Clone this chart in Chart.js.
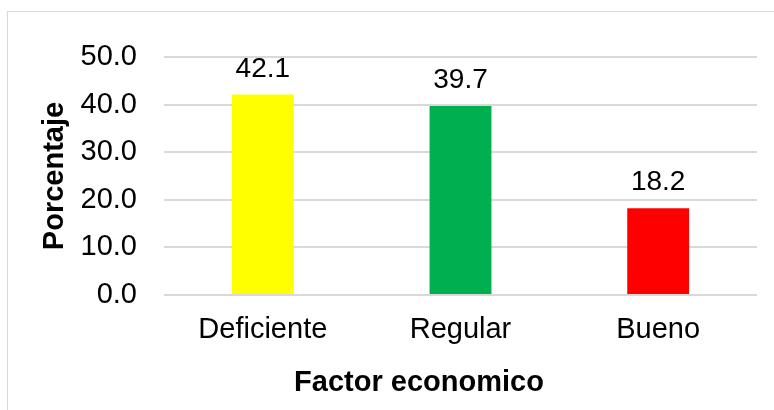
<!DOCTYPE html>
<html>
<head>
<meta charset="utf-8">
<script src="https://cdn.jsdelivr.net/npm/chart.js@4"></script>
<style>
  html, body { margin: 0; padding: 0; background: #fff; }
  #wrap { width: 774px; height: 410px; }
</style>
</head>
<body>
<div id="wrap"><canvas id="chart" width="774" height="410"></canvas></div>
<script>
const categories = ['Deficiente', 'Regular', 'Bueno'];
const values = [42.1, 39.7, 18.2];
const barColors = ['#FFFF00', '#00B050', '#FF0000'];
const yTicks = { min: 0, max: 50, step: 10 };
const xTitle = 'Factor economico';
const yTitle = 'Porcentaje';

const FONT = "'Liberation Sans', Arial, sans-serif";

// outer frame, like the Excel chart border
const framePlugin = {
  id: 'frame',
  beforeDraw(chart) {
    const ctx = chart.ctx;
    ctx.save();
    ctx.fillStyle = '#fff';
    ctx.fillRect(0, 0, chart.width, chart.height);
    ctx.strokeStyle = '#d9d9d9';
    ctx.lineWidth = 1;
    ctx.strokeRect(7.5, 11.5, chart.width + 20, chart.height + 20);
    ctx.restore();
  }
};

// value labels above bars + axis titles
const labelPlugin = {
  id: 'labels',
  afterDatasetsDraw(chart) {
    const ctx = chart.ctx;
    const meta = chart.getDatasetMeta(0);
    ctx.save();
    ctx.fillStyle = '#000';
    ctx.font = '28px ' + FONT;
    ctx.textAlign = 'center';
    ctx.textBaseline = 'alphabetic';
    meta.data.forEach((bar, i) => {
      ctx.fillText(values[i].toFixed(1), bar.x, bar.y - 18);
    });

    ctx.font = 'bold 29px ' + FONT;
    // x title sits a bit left of the plot centre, as in the original
    ctx.fillText(xTitle, 419, 391);

    const area = chart.chartArea;
    ctx.translate(55, (area.top + area.bottom) / 2);
    ctx.rotate(-Math.PI / 2);
    ctx.textBaseline = 'middle';
    ctx.fillText(yTitle, 0, 0);
    ctx.restore();
  }
};

new Chart(document.getElementById('chart'), {
  type: 'bar',
  data: {
    labels: categories,
    datasets: [{
      data: values,
      backgroundColor: barColors,
      barPercentage: 0.313,
      categoryPercentage: 1
    }]
  },
  options: {
    responsive: false,
    animation: false,
    layout: { padding: { left: 0, right: 17, top: 57, bottom: 0 } },
    plugins: {
      legend: { display: false },
      tooltip: { enabled: false }
    },
    scales: {
      x: {
        grid: { display: false, drawTicks: false },
        border: { display: false },
        ticks: {
          color: '#000',
          padding: 18,
          font: { family: FONT, size: 29 }
        },
        afterFit(scale) { scale.height = 115; }
      },
      y: {
        min: yTicks.min,
        max: yTicks.max,
        grid: { color: '#d9d9d9', lineWidth: 2, drawTicks: false },
        border: { display: false },
        ticks: {
          stepSize: yTicks.step,
          color: '#000',
          padding: 27,
          font: { family: FONT, size: 29 },
          callback: v => v.toFixed(1)
        },
        afterFit(scale) { scale.width = 164; }
      }
    }
  },
  plugins: [framePlugin, labelPlugin]
});
</script>
</body>
</html>
